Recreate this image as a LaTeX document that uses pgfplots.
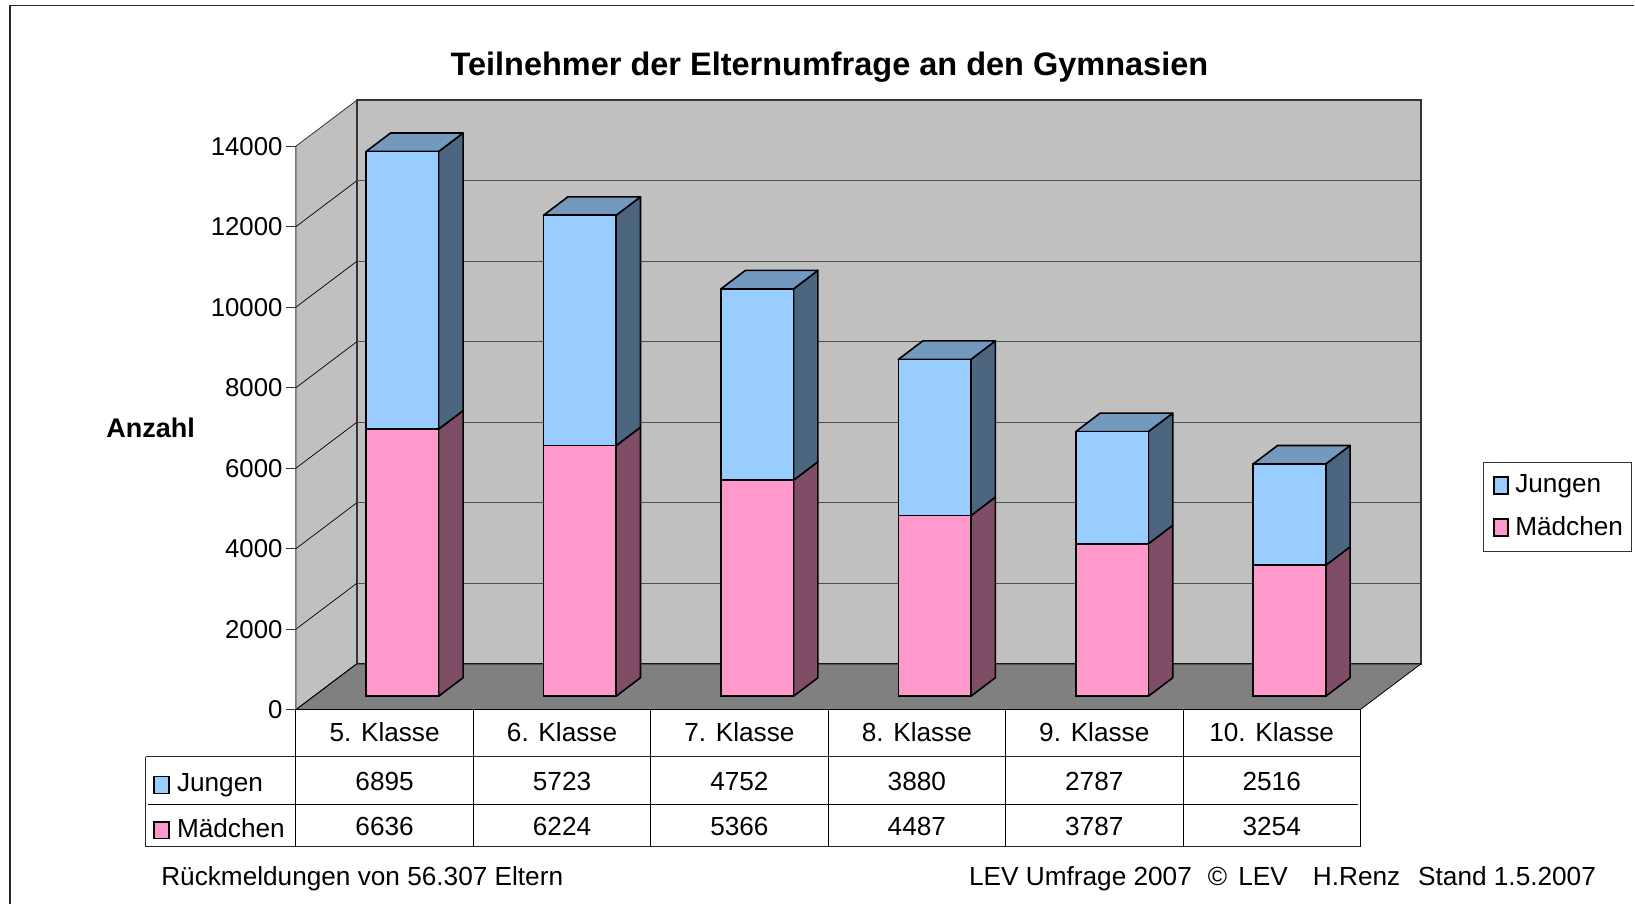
\documentclass[border=0pt]{standalone}
\usepackage{pgfplots}
\pgfplotsset{compat=1.18}
\usepackage{pgfplotstable}
\usepackage{fontspec}
\setmainfont{Liberation Sans}
\definecolor{jung}{HTML}{99CCFF}
\definecolor{maed}{HTML}{FF99CC}
\definecolor{jungside}{HTML}{4D6680}
\definecolor{jungtop}{HTML}{7399BF}
\definecolor{maedside}{HTML}{804D66}
\definecolor{wall}{HTML}{C0C0C0}
\definecolor{floorc}{HTML}{808080}
\definecolor{edge}{HTML}{333333}
\definecolor{gridc}{HTML}{505050}
\pgfplotstableread{
x    maedchen jungen
0.5  6636 6895
1.5  6224 5723
2.5  5366 4752
3.5  4487 3880
4.5  3787 2787
5.5  3254 2516
}\lev
\newcommand{\px}[1]{(#1)*0.5pt}
\newcommand{\py}[1]{(904-(#1))*0.5pt}
\newcommand{\side}[4]{%
  \pgfmathsetmacro\xa{#1+0.2045}\pgfmathsetmacro\xb{#1+0.342}%
  \pgfmathsetmacro\ya{#2+459}\pgfmathsetmacro\yb{#3+459}%
  \addplot[fill=#4,draw=black,line width=0.8pt,line join=round] coordinates {(\xa,#2)(\xb,\ya)(\xb,\yb)(\xa,#3)} --cycle;}
\newcommand{\topf}[2]{%
  \pgfmathsetmacro\xa{#1-0.2045}\pgfmathsetmacro\xb{#1+0.2045}%
  \pgfmathsetmacro\xc{#1+0.342}\pgfmathsetmacro\xd{#1-0.067}\pgfmathsetmacro\yb{#2+459}%
  \addplot[fill=jungtop,draw=black,line width=0.8pt,line join=round] coordinates {(\xa,#2)(\xb,#2)(\xc,\yb)(\xd,\yb)} --cycle;}
\begin{document}
\begin{tikzpicture}[every node/.style={font=\fontsize{13.1pt}{15pt}\selectfont}]
\path ({\px{0}},{\py{0}}) rectangle ({\px{1635}},{\py{904}});
\draw[black!85,line width=0.7pt] ({\px{10}},{\py{904}}) -- ({\px{10}},{\py{5.5}}) -- ({\px{1635}},{\py{5.5}});
% walls, value axis
\begin{axis}[
  at={({\px{296}},{\py{710}})},anchor=south west,scale only axis,
  width=562.85pt,height=304.85pt,
  xmin=0,xmax=6.3437,ymin=0,ymax=15141,clip=false,
  axis x line=none,axis y line=left,axis line style={draw=none,-},
  xtick=\empty,ytick={0,2000,...,14000},scaled y ticks=false,
  tick align=outside,major tick length=5pt,
  tick style={draw=edge,line width=0.4pt},
  /pgf/number format/assume math mode=true,
  /pgf/number format/1000 sep={},
  yticklabel style={font=\fontsize{12.9pt}{15pt}\selectfont,inner sep=0pt,xshift=-1.5pt},
  title={\fontsize{16.25pt}{18pt}\selectfont\bfseries Teilnehmer der Elternumfrage an den Gymnasien},
  title style={at={(axis cs:3.008,15461)},anchor=base,inner sep=0pt},
  ylabel={\fontsize{13.5pt}{15pt}\selectfont\bfseries Anzahl},
  ylabel style={at={(axis cs:-1.07,6772)},anchor=base west,rotate=-90,inner sep=0pt},
]
\addplot[fill=wall,draw=edge,line width=0.8pt] coordinates {(0.3437,1141)(6.3437,1141)(6.3437,15141)(0.3437,15141)} --cycle;
\addplot[fill=wall,draw=edge,line width=0.4pt] coordinates {(0,0)(0.3437,1141)(0.3437,15141)(0,14000)} --cycle;
\addplot[fill=floorc,draw=none] coordinates {(0,0)(6,0)(6.3437,1141)(0.3437,1141)} --cycle;
\addplot[draw=black,line width=0.5pt] coordinates {(0,0)(0.3437,1141)(6.3437,1141)};
\addplot[draw=black,line width=0.4pt] coordinates {(6,0)(6.3437,1141)};
\addplot[draw=edge,line width=0.8pt] coordinates {(0.3437,1141)(0.3437,15141)};
\addplot[draw=black,line width=0.35pt] coordinates {(0,2000)(0.3437,3141)};
\addplot[draw=black,line width=0.35pt] coordinates {(0,4000)(0.3437,5141)};
\addplot[draw=black,line width=0.35pt] coordinates {(0,6000)(0.3437,7141)};
\addplot[draw=black,line width=0.35pt] coordinates {(0,8000)(0.3437,9141)};
\addplot[draw=black,line width=0.35pt] coordinates {(0,10000)(0.3437,11141)};
\addplot[draw=black,line width=0.35pt] coordinates {(0,12000)(0.3437,13141)};
\addplot[draw=gridc,line width=0.55pt] coordinates {(0.3437,3141)(6.3437,3141)};
\addplot[draw=gridc,line width=0.55pt] coordinates {(0.3437,5141)(6.3437,5141)};
\addplot[draw=gridc,line width=0.55pt] coordinates {(0.3437,7141)(6.3437,7141)};
\addplot[draw=gridc,line width=0.55pt] coordinates {(0.3437,9141)(6.3437,9141)};
\addplot[draw=gridc,line width=0.55pt] coordinates {(0.3437,11141)(6.3437,11141)};
\addplot[draw=gridc,line width=0.55pt] coordinates {(0.3437,13141)(6.3437,13141)};
\end{axis}
% side and top faces of the columns
\begin{axis}[
  at={({\px{313.8}},{\py{696.5}})},anchor=south west,scale only axis,
  width=532.5pt,height=281.9pt,
  xmin=0,xmax=6,ymin=0,ymax=14000,clip=false,hide axis]
\side{0.5}{0}{6636}{maedside}\side{0.5}{6636}{13531}{jungside}\topf{0.5}{13531}
\side{1.5}{0}{6224}{maedside}\side{1.5}{6224}{11947}{jungside}\topf{1.5}{11947}
\side{2.5}{0}{5366}{maedside}\side{2.5}{5366}{10118}{jungside}\topf{2.5}{10118}
\side{3.5}{0}{4487}{maedside}\side{3.5}{4487}{8367}{jungside}\topf{3.5}{8367}
\side{4.5}{0}{3787}{maedside}\side{4.5}{3787}{6574}{jungside}\topf{4.5}{6574}
\side{5.5}{0}{3254}{maedside}\side{5.5}{3254}{5770}{jungside}\topf{5.5}{5770}
\end{axis}
% front faces, stacked
\begin{axis}[
  at={({\px{313.8}},{\py{696.5}})},anchor=south west,scale only axis,
  width=532.5pt,height=281.9pt,
  xmin=0,xmax=6,ymin=0,ymax=14000,clip=false,
  axis lines=none,
  ybar stacked,bar width=0.409,
  reverse legend,
  legend cell align=left,
  legend style={at={(axis cs:6.59,5830)},anchor=north west,draw=black!80,line width=0.4pt,
    font=\fontsize{13.1pt}{15pt}\selectfont,inner xsep=2pt,inner ysep=4.4pt,row sep=6.5pt,
    /tikz/every even column/.append style={column sep=0pt}},
  legend image code/.code={\path[draw=none,fill=none] (0pt,0pt) -- (12pt,0pt);\draw[#1,line width=0.8pt] (3.2pt,-4.25pt) rectangle (10.2pt,4.25pt);},
]
\addplot[fill=maed,draw=black,line width=0.8pt] table[x=x,y=maedchen] {\lev};
\addlegendentry{Mädchen}
\addplot[fill=jung,draw=black,line width=0.8pt] table[x=x,y=jungen] {\lev};
\addlegendentry{Jungen}
\end{axis}
% data table
\draw[black,line width=0.6pt] ({\px{296}},{\py{710}}) -- ({\px{1361}},{\py{710}});
\draw[black!85,line width=0.5pt] ({\px{146}},{\py{757.3}}) -- ({\px{1361}},{\py{757.3}});
\draw[black,line width=0.45pt] ({\px{148}},{\py{804.3}}) -- ({\px{1359}},{\py{804.3}});
\draw[black!85,line width=0.5pt] ({\px{146}},{\py{847}}) -- ({\px{1361}},{\py{847}});
\draw[black!85,line width=0.5pt] ({\px{146}},{\py{757.3}}) -- ({\px{146}},{\py{847}});
\foreach \c in {0,...,6}{
  \draw[black,line width=0.5pt] ({\px{296+177.5*\c}},{\py{710}}) -- ({\px{296+177.5*\c}},{\py{847}});
}
\foreach \c/\name/\j/\m in {0/5. Klasse/6895/6636,1/6. Klasse/5723/6224,2/7. Klasse/4752/5366,3/8. Klasse/3880/4487,4/9. Klasse/2787/3787,5/10. Klasse/2516/3254}{
  \node[anchor=base,inner sep=0pt] at ({\px{384.75+177.5*\c}},{\py{741.5}}) {\name};
  \node[anchor=base,inner sep=0pt] at ({\px{384.75+177.5*\c}},{\py{791}}) {\j};
  \node[anchor=base,inner sep=0pt] at ({\px{384.75+177.5*\c}},{\py{836}}) {\m};
}
\draw[black,line width=0.8pt,fill=jung] ({\px{154}},{\py{777}}) rectangle ({\px{169}},{\py{794}});
\draw[black,line width=0.8pt,fill=maed] ({\px{154}},{\py{822.5}}) rectangle ({\px{169}},{\py{839}});
\node[anchor=base west,inner sep=0pt] at ({\px{176.7}},{\py{791.7}}) {Jungen};
\node[anchor=base west,inner sep=0pt] at ({\px{176.7}},{\py{837.5}}) {Mädchen};
% footer
\node[anchor=base west,inner sep=0pt] at ({\px{161}},{\py{885.7}}) {Rückmeldungen von 56.307 Eltern};
\node[anchor=base east,inner sep=0pt] at ({\px{1597}},{\py{885.7}}) {LEV Umfrage 2007\hspace{8pt}©\hspace{2pt} LEV\hspace{12.5pt}H.Renz\hspace{9pt}Stand 1.5.2007};
\end{tikzpicture}
\end{document}
